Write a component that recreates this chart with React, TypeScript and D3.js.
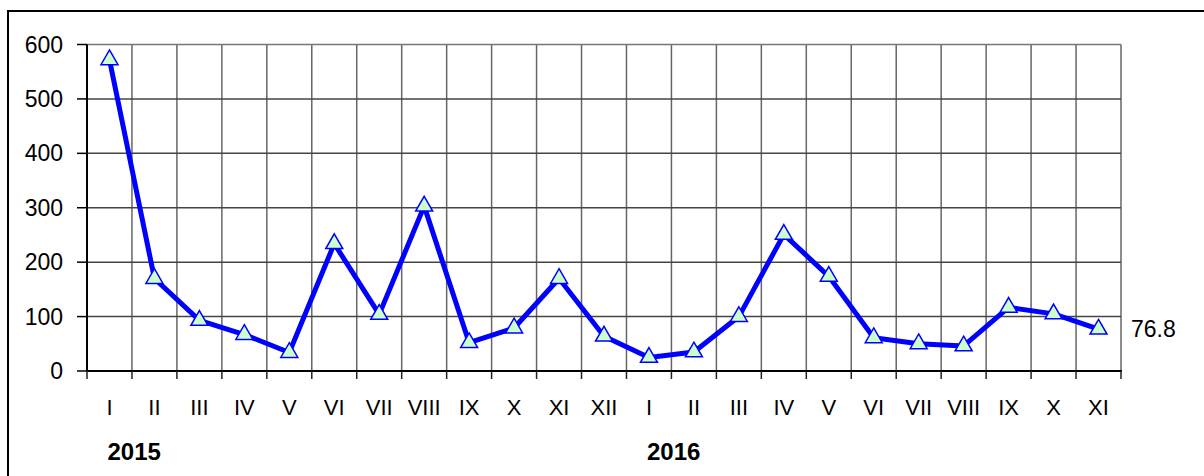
import React, { useEffect, useRef } from 'react';
import * as d3 from 'd3';

// monthly values, Jan 2015 .. Nov 2016
const months = ['I', 'II', 'III', 'IV', 'V', 'VI', 'VII', 'VIII', 'IX', 'X', 'XI', 'XII',
  'I', 'II', 'III', 'IV', 'V', 'VI', 'VII', 'VIII', 'IX', 'X', 'XI'];
const values = [572, 170, 93, 67, 34, 234, 104, 303, 52, 79, 170, 64,
  25, 35, 100, 251, 174, 61, 50, 46, 117, 105, 76.8];
const yearLabels = ['2015', '2016'];
const yearStart = [0, 12]; // index of first month in each year
const yTicks = [0, 100, 200, 300, 400, 500, 600];

const W = 1204;
const H = 476;
const FONT = 'Arial, "Liberation Sans", sans-serif';
const FS = 22;

export default function App() {
  const svgRef = useRef<SVGSVGElement>(null);

  useEffect(() => {
    const svg = d3.select(svgRef.current);
    svg.selectAll('*').remove();

    const left = 87, right = 1121, top = 44.5, bottom = 371;

    const x = d3.scaleBand<number>()
      .domain(months.map((_, i) => i))
      .range([left, right])
      .padding(0);
    const y = d3.scaleLinear().domain([0, 600]).range([bottom, top]);
    const cx = (i: number) => x(i)! + x.bandwidth() / 2;

    // outer frame (only left + top show in the picture)
    svg.append('rect')
      .attr('x', 8).attr('y', 11)
      .attr('width', W + 20).attr('height', H + 20)
      .attr('fill', 'none').attr('stroke', '#000').attr('stroke-width', 2);

    // vertical grid
    const bounds = d3.range(months.length + 1).map(i => left + i * x.bandwidth());
    svg.append('g').selectAll('line')
      .data(bounds.slice(1))
      .enter().append('line')
      .attr('x1', d => d).attr('x2', d => d)
      .attr('y1', top).attr('y2', bottom)
      .attr('stroke', '#666').attr('stroke-width', 1.5);

    // horizontal grid
    svg.append('g').selectAll('line')
      .data(yTicks.slice(1))
      .enter().append('line')
      .attr('x1', left).attr('x2', right)
      .attr('y1', d => y(d)).attr('y2', d => y(d))
      .attr('stroke', d => d === 600 ? '#777' : '#444').attr('stroke-width', 1.5);

    // axes
    svg.append('line')
      .attr('x1', left).attr('x2', left).attr('y1', top).attr('y2', bottom)
      .attr('stroke', '#000').attr('stroke-width', 2);
    svg.append('line')
      .attr('x1', left).attr('x2', right + 1).attr('y1', bottom).attr('y2', bottom)
      .attr('stroke', '#000').attr('stroke-width', 2);

    svg.append('g').selectAll('line')   // y ticks
      .data(yTicks)
      .enter().append('line')
      .attr('x1', left - 10).attr('x2', left)
      .attr('y1', d => y(d)).attr('y2', d => y(d))
      .attr('stroke', '#000').attr('stroke-width', 1.5);
    svg.append('g').selectAll('line')   // x ticks
      .data(bounds)
      .enter().append('line')
      .attr('x1', d => d).attr('x2', d => d)
      .attr('y1', bottom).attr('y2', bottom + 8)
      .attr('stroke', '#222').attr('stroke-width', 1.5);

    svg.append('g').selectAll('text')
      .data(yTicks)
      .enter().append('text')
      .attr('x', 63).attr('y', d => y(d))
      .attr('dy', '0.35em')
      .attr('text-anchor', 'end')
      .attr('font-family', FONT).attr('font-size', FS + 1)
      .text(d => d);

    svg.append('g').selectAll('text')
      .data(months)
      .enter().append('text')
      .attr('x', (_, i) => cx(i)).attr('y', 407)
      .attr('dy', '0.35em')
      .attr('text-anchor', 'middle')
      .attr('font-family', FONT).attr('font-size', FS)
      .text(d => d);

    svg.append('g').selectAll('text')
      .data(yearLabels)
      .enter().append('text')
      .attr('x', (_, i) => cx(yearStart[i]) - 2).attr('y', 452)
      .attr('dy', '0.35em')
      .attr('font-family', FONT).attr('font-size', FS + 2).attr('font-weight', 'bold')
      .text(d => d);

    // the line
    const line = d3.line<number>()
      .x((_, i) => cx(i))
      .y(d => y(d));
    svg.append('path')
      .datum(values)
      .attr('d', line)
      .attr('fill', 'none')
      .attr('stroke', '#0000ff')
      .attr('stroke-width', 5)
      .attr('stroke-linejoin', 'round');

    // triangle markers
    const tri = d3.symbol().type(d3.symbolTriangle).size(125);
    svg.append('g').selectAll('path')
      .data(values)
      .enter().append('path')
      .attr('d', tri)
      .attr('transform', (d, i) => `translate(${cx(i)},${y(d)})`)
      .attr('fill', '#ccffcc')
      .attr('stroke', '#0000ff')
      .attr('stroke-width', 1.5);

    // last value label
    const last = values.length - 1;
    svg.append('text')
      .attr('x', 1131).attr('y', y(values[last]))
      .attr('dy', '0.35em')
      .attr('font-family', FONT).attr('font-size', FS + 1)
      .text(values[last].toFixed(1));
  }, []);

  return (
    <svg ref={svgRef} width={W} height={H}
      style={{ position: 'absolute', left: 0, top: 0, background: '#fff' }} />
  );
}
